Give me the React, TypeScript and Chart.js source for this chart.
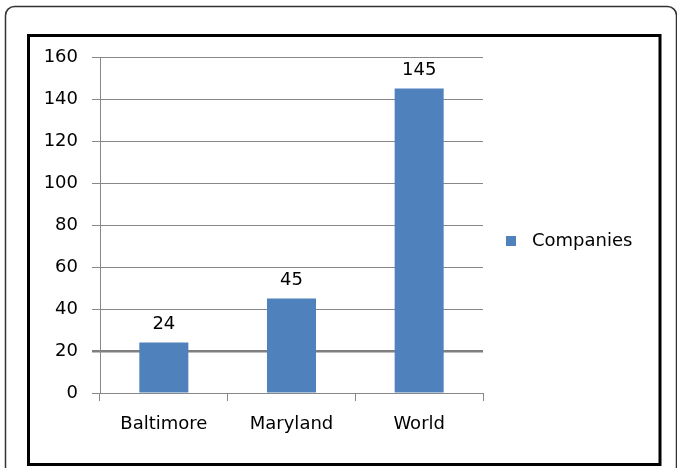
import React, { useEffect, useRef } from "react";
import { Chart, registerables } from "chart.js";

Chart.register(...registerables);

const categories = ["Baltimore", "Maryland", "World"];
const companies = [24, 45, 145];
const seriesLabel = "Companies";
const yTicks = [0, 20, 40, 60, 80, 100, 120, 140, 160];

const FONT = "'DejaVu Sans', sans-serif";
const BAR_COLOR = "#4F81BD";
const GRID_COLOR = "#888888";

const framePlugin = {
  id: "frame",
  beforeDraw(chart: any) {
    const ctx = chart.ctx;
    ctx.save();
    ctx.fillStyle = "#ffffff";
    ctx.fillRect(0, 0, chart.width, chart.height);
    // outer rounded border
    ctx.strokeStyle = "#333333";
    ctx.lineWidth = 1.5;
    ctx.beginPath();
    ctx.roundRect(5.5, 6.5, 671, 480, 9);
    ctx.stroke();
    // inner black border
    ctx.strokeStyle = "#000000";
    ctx.lineWidth = 3;
    ctx.strokeRect(28.5, 35.5, 631.5, 429);
    ctx.restore();
  },
};

const labelsPlugin = {
  id: "valueLabels",
  afterDatasetsDraw(chart: any) {
    const ctx = chart.ctx;
    ctx.save();
    ctx.font = `18px ${FONT}`;
    ctx.fillStyle = "#000000";
    ctx.textAlign = "center";
    ctx.textBaseline = "middle";
    const meta = chart.getDatasetMeta(0);
    meta.data.forEach((bar: any, i: number) => {
      ctx.fillText(String(chart.data.datasets[0].data[i]), bar.x, bar.y - 18);
    });
    // legend
    const ds = chart.data.datasets[0];
    ctx.fillStyle = ds.backgroundColor;
    ctx.fillRect(506, 236, 10, 10);
    ctx.fillStyle = "#000000";
    ctx.textAlign = "left";
    ctx.fillText(ds.label, 532, 241);
    ctx.restore();
  },
};

export default function App() {
  const ref = useRef<HTMLCanvasElement>(null);
  useEffect(() => {
    document.body.style.margin = "0";
    const chart = new Chart(ref.current!, {
      type: "bar",
      data: {
        labels: categories,
        datasets: [
          {
            label: seriesLabel,
            data: companies,
            backgroundColor: BAR_COLOR,
            categoryPercentage: 0.8,
            barPercentage: 0.48,
          },
        ],
      },
      options: {
        animation: false,
        responsive: false,
        layout: { padding: { left: 0, top: 57, right: 194, bottom: 0 } },
        plugins: { legend: { display: false }, tooltip: { enabled: false } },
        scales: {
          x: {
            afterFit: (s: any) => {
              s.height = 75;
            },
            grid: {
              drawOnChartArea: false,
              drawTicks: true,
              tickLength: 8,
              color: GRID_COLOR,
              offset: true,
            },
            border: { color: GRID_COLOR, width: 1 },
            ticks: {
              color: "#000000",
              font: { family: FONT, size: 18 },
              padding: 13,
            },
          },
          y: {
            min: 0,
            max: 160,
            afterFit: (s: any) => {
              s.width = 100;
            },
            afterBuildTicks: (s: any) => {
              s.ticks = yTicks.map((v) => ({ value: v }));
            },
            grid: {
              drawTicks: true,
              tickLength: 8,
              color: (c: any) => (c.tick && c.tick.value === 20 ? "#7f7f7f" : GRID_COLOR),
              lineWidth: (c: any) => (c.tick && c.tick.value === 20 ? 2.5 : 1),
            },
            border: { color: GRID_COLOR, width: 1 },
            ticks: {
              color: "#000000",
              font: { family: FONT, size: 18 },
              padding: 14,
            },
          },
        },
      },
      plugins: [framePlugin, labelsPlugin],
    });
    return () => chart.destroy();
  }, []);
  return (
    <div style={{ position: "absolute", left: 0, top: 0, width: 677, height: 468 }}>
      <canvas ref={ref} width={677} height={468} style={{ width: 677, height: 468, display: "block" }} />
    </div>
  );
}
